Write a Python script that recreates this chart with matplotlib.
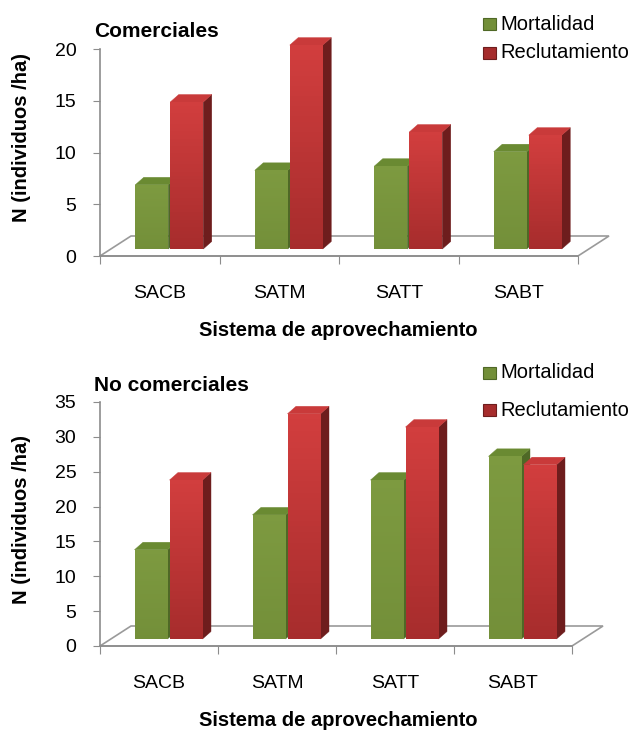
import numpy as np
import matplotlib
matplotlib.use("Agg")
import matplotlib.pyplot as plt
from matplotlib.patches import Polygon, Rectangle
from matplotlib.collections import PolyCollection

plt.rcParams['font.family'] = ['Liberation Sans', 'DejaVu Sans']

# ---------------- data ----------------
categories = ["SACB", "SATM", "SATT", "SABT"]
series_names = ["Mortalidad", "Reclutamiento"]
com_mortalidad = [6.2, 7.6, 8.0, 9.4]
com_reclutamiento = [14.2, 19.7, 11.3, 11.0]
nocom_mortalidad = [12.8, 17.8, 22.8, 26.2]
nocom_reclutamiento = [22.8, 32.3, 30.4, 25.0]
com_yticks = [0, 5, 10, 15, 20]
nocom_yticks = [0, 5, 10, 15, 20, 25, 30, 35]
titles = ["Comerciales", "No comerciales"]
ylabel = "N (individuos /ha)"
xlabel = "Sistema de aprovechamiento"

W, H = 640, 734
fig = plt.figure(figsize=(W / 100, H / 100), dpi=100)


def fx(px):
    return px / W


def fy(py):
    return 1 - py / H


GREEN = dict(front_top="#7D9A40", front_bot="#738F39", side="#4F6826", top="#6A8A32")
RED = dict(front_top="#D23E3E", front_bot="#A62C2C", side="#6E1D1D", top="#C93A3A")
GRID = "#8C8C8C"


def grad_quad(ax, bl, br, tr, tl, c_top, c_bot, z, n=40):
    bl, br, tr, tl = map(np.asarray, (bl, br, tr, tl))
    ct = np.array(matplotlib.colors.to_rgb(c_top))
    cb = np.array(matplotlib.colors.to_rgb(c_bot))
    polys, cols = [], []
    for j in range(n):
        s0, s1 = j / n, (j + 1) / n
        l0 = bl + (tl - bl) * s0
        l1 = bl + (tl - bl) * s1
        r0 = br + (tr - br) * s0
        r1 = br + (tr - br) * s1
        polys.append([l0, r0, r1, l1])
        f = (s0 + s1) / 2          # 0 bottom, 1 top
        cols.append(cb * (1 - f) + ct * f)
    pc = PolyCollection(polys, facecolors=cols, edgecolors='none', linewidths=0,
                        antialiaseds=False, zorder=z, clip_on=False)
    ax.add_collection(pc)


def draw_panel(rect_px, ymax, yticks, s1, s2, title, title_px, leg_px, ylab_px, xlab_px):
    left, right, ytop, ybot = rect_px
    ax = fig.add_axes([fx(left), fy(ybot), (right - left) / W, (ybot - ytop) / H])
    ax.set_xlim(-0.5, 3.5)
    ax.set_ylim(0, ymax)
    ppx = (right - left) / 4.0           # pixels per x unit
    ppy = (ybot - ytop) / ymax           # pixels per y unit
    X = lambda p: p / ppx
    Y = lambda p: p / ppy

    # floor
    fdx, fdy = X(31), Y(20)
    floor = Polygon([(-0.5, 0), (3.5, 0), (3.5 + fdx, fdy), (-0.5 + fdx, fdy)],
                    closed=True, facecolor="white", edgecolor="#9A9A9A", lw=1.2, zorder=1,
                    clip_on=False)
    ax.add_patch(floor)

    # bars
    sx, sy = X(9.5), Y(7)          # front-face shift (mid depth)
    bw, gap = X(33), X(2)
    ddx, ddy = X(8.5), Y(7.5)      # bar depth
    xs = np.arange(len(categories))
    for i in xs:
        for k, (vals, col) in enumerate([(s1, GREEN), (s2, RED)]):
            v = vals[i]
            if k == 0:
                x0 = i + sx - gap / 2 - bw
            else:
                x0 = i + sx + gap / 2
            x1 = x0 + bw
            b = sy
            top = sy + v
            z = 3 + k * 3
            ax.add_patch(Polygon([(x1, b), (x1 + ddx, b + ddy), (x1 + ddx, top + ddy), (x1, top)],
                                 closed=True, facecolor=col["side"], edgecolor=col["side"], lw=0.3,
                                 zorder=z, clip_on=False))
            ax.add_patch(Polygon([(x0, top), (x1, top), (x1 + ddx, top + ddy), (x0 + ddx, top + ddy)],
                                 closed=True, facecolor=col["top"], edgecolor=col["top"], lw=0.3,
                                 zorder=z + 1, clip_on=False))
            ax.bar([x0 + bw / 2], [v], width=bw, bottom=b, color="none", edgecolor="none",
                   zorder=z + 2, clip_on=False)
            grad_quad(ax, (x0, b), (x1, b), (x1, top), (x0, top), col["front_top"],
                      col["front_bot"], z + 2)

    ax.set_xlim(-0.5, 3.5)
    ax.set_ylim(0, ymax)
    for s in ["top", "right"]:
        ax.spines[s].set_visible(False)
    for s in ["left", "bottom"]:
        ax.spines[s].set_color(GRID)
        ax.spines[s].set_linewidth(1.2)
        ax.spines[s].set_zorder(20)
    ax.set_yticks(yticks)
    ax.tick_params(axis='y', direction='out', length=5, color=GRID, labelsize=14, pad=12,
                   labelcolor="black")
    ax.set_xticks([-0.5, 0.5, 1.5, 2.5, 3.5])
    ax.set_xticklabels([])
    ax.tick_params(axis='x', direction='out', length=6, color=GRID)
    ax.set_xticks(xs, minor=True)
    ax.set_xticklabels(categories, minor=True, fontsize=14)
    ax.tick_params(axis='x', which='minor', length=0, pad=21)
    ax.patch.set_visible(False)

    fig.text(fx(xlab_px[0]), fy(xlab_px[1]), xlabel, fontsize=14.5, fontweight='bold',
             ha='center', va='center')
    fig.text(fx(ylab_px[0]), fy(ylab_px[1]), ylabel, fontsize=14.5, fontweight='bold',
             ha='center', va='center', rotation=90)
    fig.text(fx(title_px[0]), fy(title_px[1]), title, fontsize=15, fontweight='bold',
             ha='left', va='baseline')

    # legend
    for (name, col), (lx, ly) in zip([(series_names[0], GREEN), (series_names[1], RED)], leg_px):
        fig.add_artist(Rectangle((fx(lx), fy(ly + 6)), 13 / W, 12 / H, transform=fig.transFigure,
                                 facecolor=col["front_bot"], edgecolor=col["side"], lw=0.8))
        fig.text(fx(lx + 17), fy(ly), name, fontsize=14.5, ha='left', va='center')
    return ax


draw_panel((100, 578, 49, 256), 20, com_yticks, com_mortalidad, com_reclutamiento,
           titles[0], (94, 37), [(483, 24), (483, 53)], (22, 138), (338, 330))
draw_panel((100, 572, 402, 646), 35, nocom_yticks, nocom_mortalidad, nocom_reclutamiento,
           titles[1], (94, 391), [(483, 373), (483, 410)], (22, 520), (338, 721))

fig.savefig("out.png", dpi=100, facecolor="white")
